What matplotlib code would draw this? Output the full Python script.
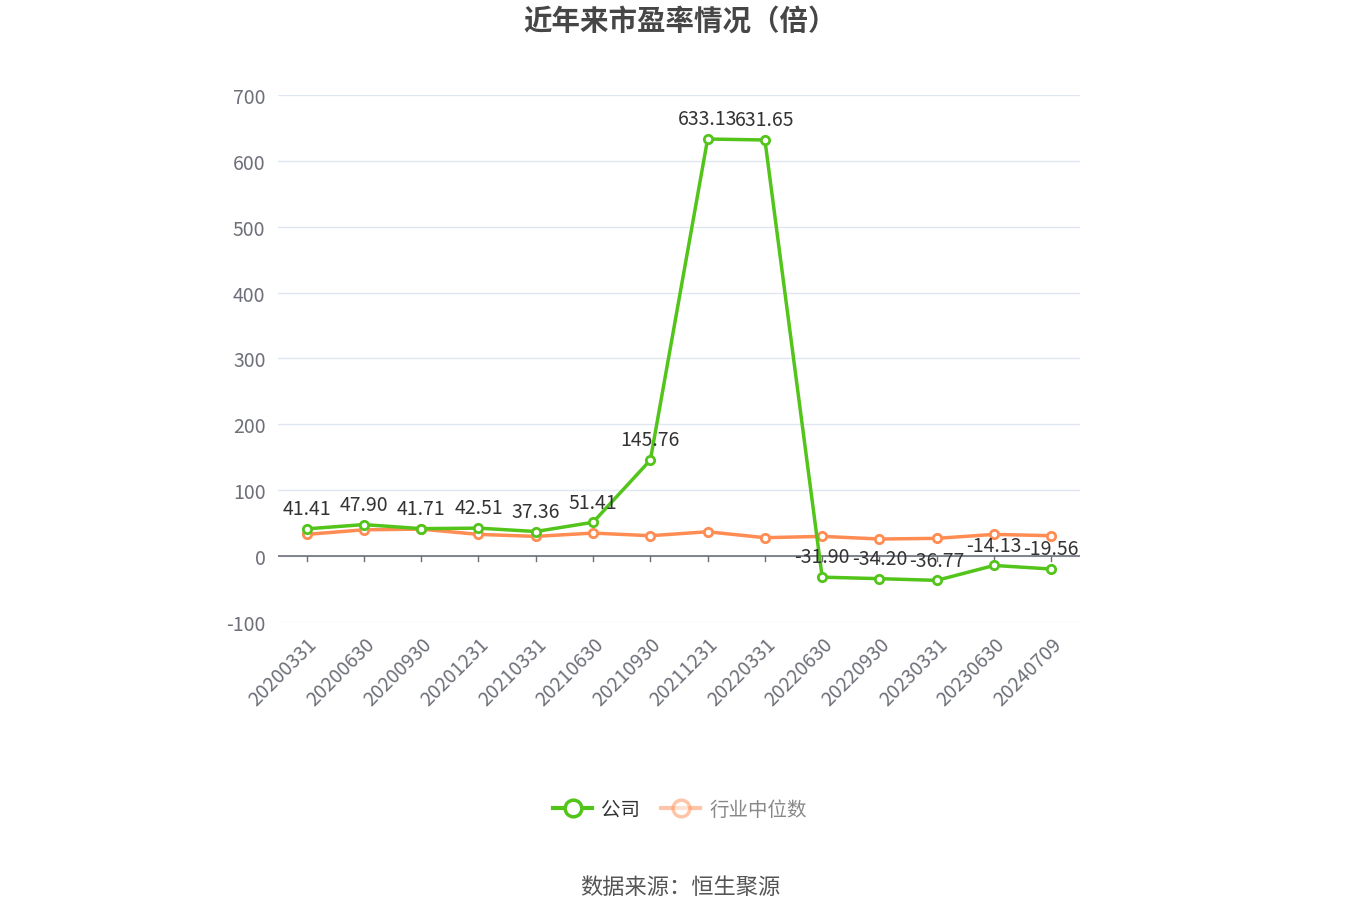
import matplotlib.pyplot as plt

plt.rcParams['font.family'] = ['Noto Sans CJK SC', 'DejaVu Sans']
plt.rcParams['axes.unicode_minus'] = False

dates = ["20200331", "20200630", "20200930", "20201231", "20210331", "20210630",
         "20210930", "20211231", "20220331", "20220630", "20220930", "20230331",
         "20230630", "20240709"]
company = [41.41, 47.90, 41.71, 42.51, 37.36, 51.41, 145.76, 633.13, 631.65,
           -31.90, -34.20, -36.77, -14.13, -19.56]
industry = [33, 40, 41, 33, 30, 35, 31, 37, 28, 30, 26, 27, 33, 31]

green = "#52c41a"
orange = "#ff8c52"
grey = "#6e7079"

fig = plt.figure(figsize=(13.6, 9.2), dpi=100)
ax = fig.add_axes([0.2044, 0.3228, 0.5897, 0.5729])

x = list(range(len(dates)))
ax.plot(x, industry, color=orange, lw=2.5, marker="o", ms=6, mfc="white",
        mec=orange, mew=2, zorder=3, label="行业中位数")
ax.plot(x, company, color=green, lw=2.5, marker="o", ms=6, mfc="white",
        mec=green, mew=2, zorder=4, label="公司")

for xi, v in zip(x, company):
    ax.annotate(f"{v:.2f}", (xi, v), xytext=(0, 7), textcoords="offset points",
                ha="center", va="bottom", fontsize=14, color="#333333", zorder=5)

ax.set_xlim(-0.5, len(dates) - 0.5)
ax.set_ylim(-100, 700)
ax.set_yticks(range(-100, 701, 100))
ax.grid(axis="y", color="#e0e6f1", lw=1)
ax.set_axisbelow(True)
for s in ax.spines.values():
    s.set_visible(False)
ax.axhline(0, color=grey, lw=1.2, zorder=2)
ax.tick_params(axis="y", length=0, labelsize=14, labelcolor=grey, pad=9)
ax.tick_params(axis="x", length=0, labelsize=14, labelcolor=grey, pad=8)
ax.set_xticks(x)
ax.set_xticklabels(dates, rotation=45, ha="right", rotation_mode="anchor")
for xi in x:
    ax.plot([xi, xi], [0, -8], color=grey, lw=1, zorder=2, clip_on=False)

fig.text(0.5, 0.977, "近年来市盈率情况（倍）", ha="center", va="center",
         fontsize=20.5, fontweight="bold", color="#464646")

handles, labels = ax.get_legend_handles_labels()
leg = fig.legend(handles[::-1], labels[::-1], loc="center", bbox_to_anchor=(0.5, 0.119),
                 ncol=2, frameon=False, fontsize=14, handlelength=2.0,
                 columnspacing=1.1, handletextpad=0.45)
for h in leg.legend_handles:
    h.set_markersize(12)
    h.set_linewidth(3)
    h.set_markeredgewidth(2.5)
leg.legend_handles[1].set_alpha(0.5)
leg.get_texts()[0].set_color("#333333")
leg.get_texts()[1].set_color("#888888")

fig.text(0.5, 0.035, "数据来源：恒生聚源", ha="center", va="center",
         fontsize=16, color="#555555")

fig.savefig("out.png", dpi=100)
